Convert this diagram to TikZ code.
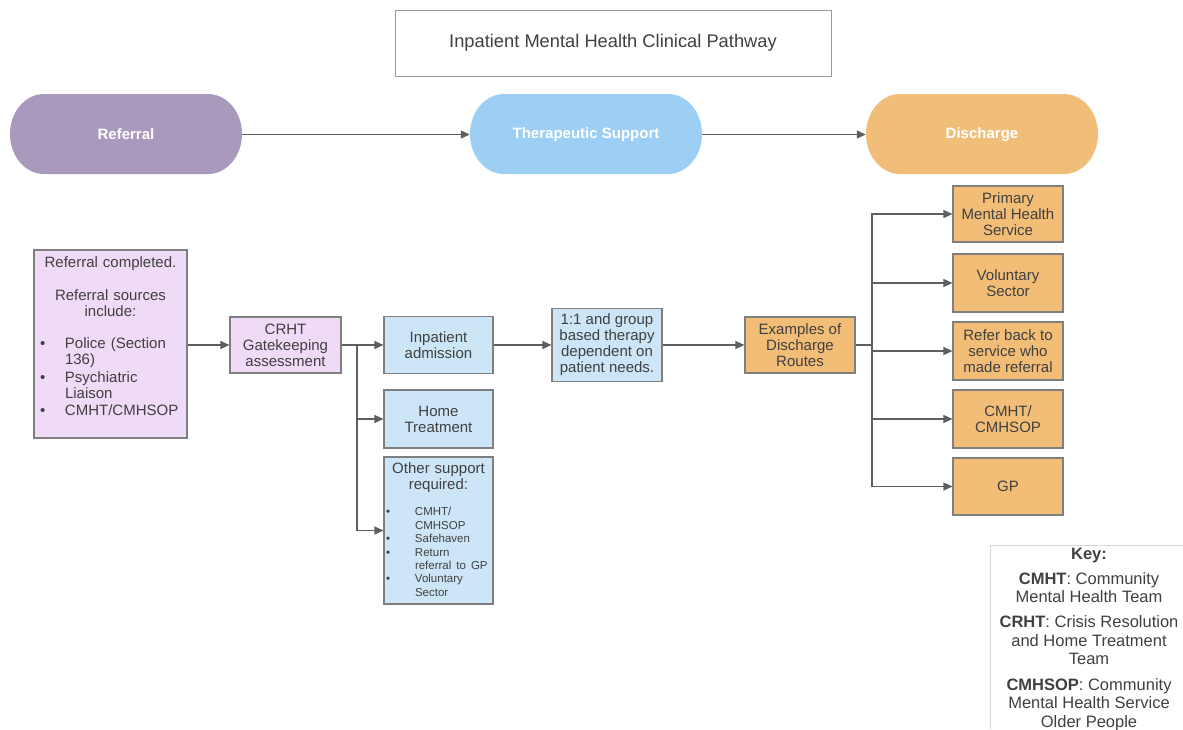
\documentclass[tikz,border=0pt]{standalone}
\usepackage{fontspec}
\setmainfont{Liberation Sans}
\usetikzlibrary{arrows.meta}
\definecolor{txtc}{HTML}{404040}
\definecolor{bordc}{HTML}{7F7F7F}
\definecolor{arrc}{HTML}{5F5F5F}
\definecolor{pillpurple}{HTML}{A99ABD}
\definecolor{pillblue}{HTML}{9CCFF3}
\definecolor{pillorange}{HTML}{F1BE79}
\definecolor{lavfill}{HTML}{EFDAF7}
\definecolor{bluefill}{HTML}{CCE6F8}
\definecolor{orangefill}{HTML}{F2BD77}
\definecolor{keyline}{HTML}{D6D6D6}
\newcommand\pillshape[3]{%
  \fill[#3] ({#1-82},{#2-40}) -- ({#1+82},{#2-40})
    .. controls ({#1+100.8},{#2-40}) and ({#1+116},{#2-22.1}) .. ({#1+116},{#2})
    .. controls ({#1+116},{#2+22.1}) and ({#1+100.8},{#2+40}) .. ({#1+82},{#2+40})
    -- ({#1-82},{#2+40})
    .. controls ({#1-100.8},{#2+40}) and ({#1-116},{#2+22.1}) .. ({#1-116},{#2})
    .. controls ({#1-116},{#2-22.1}) and ({#1-100.8},{#2-40}) .. ({#1-82},{#2-40}) -- cycle;}
% bullet line and continuation line: #1 bullet column width, #2 text
\newcommand\bulline[2]{\par\noindent\makebox[#1][l]{\textbullet}#2\par}
\newcommand\contline[2]{\par\noindent\hspace*{#1}#2\par}
\tikzset{
  boxnode/.style={draw=bordc, line width=1.1pt, text=txtc, font=\fontsize{15}{16}\selectfont, align=center, inner sep=0pt},
  lavbox/.style={boxnode, fill=lavfill},
  bluebox/.style={boxnode, fill=bluefill},
  orangebox/.style={boxnode, fill=orangefill},
  pilltext/.style={text=white, font=\fontsize{15}{16}\selectfont\bfseries, minimum width=232pt, minimum height=80pt, inner sep=0pt},
  conn/.style={draw=arrc, line width=1.2pt},
  arrow/.style={conn, -{Triangle[length=9pt,width=8pt]}},
  plaintext/.style={text=txtc, inner sep=0pt}
}
\begin{document}
\begin{tikzpicture}[x=1pt,y=-1pt]
\useasboundingbox (0,0) rectangle (1183,729);
% title
\node[draw=bordc!80, line width=1pt, minimum width=436pt, minimum height=66pt, inner sep=0pt, text=txtc, font=\fontsize{18.3}{20}\selectfont] (title) at (613,43) {Inpatient Mental Health Clinical Pathway};
% pills
\pillshape{126}{134}{pillpurple}
\pillshape{586}{134}{pillblue}
\pillshape{982}{134}{pillorange}
\node[pilltext] (pref) at (126,134.5) {Referral};
\node[pilltext] (pther) at (586,134.5) {Therapeutic Support};
\node[pilltext] (pdis) at (982,134.5) {Discharge};
\draw[arrow] (pref.east) -- (pther.west);
\draw[arrow] (pther.east) -- (pdis.west);
% referral box
\node[lavbox, minimum width=153pt, minimum height=188pt] (ref) at (110.5,344) {};
\node[plaintext, text width=141pt, anchor=north, font=\fontsize{15}{16}\selectfont] (reftext) at (110.5,256.5) {\raggedright
{\centering Referral completed.\par}\vspace{17pt}
{\centering Referral sources\\include:\par}\vspace{16pt}
\bulline{25pt}{Police (Section}
\contline{25pt}{136)}\vspace{2pt}
\bulline{25pt}{Psychiatric}
\contline{25pt}{Liaison}\vspace{1pt}
\bulline{25pt}{CMHT/CMHSOP}};
% CRHT
\node[lavbox, minimum width=111pt, minimum height=56pt] (crht) at (285.5,345) {CRHT\\Gatekeeping\\assessment};
\draw[arrow] (ref.east |- crht.west) -- (crht.west);
% blue boxes
\node[bluebox, minimum width=109pt, minimum height=57pt] (inpat) at (438.5,345) {Inpatient\\admission};
\node[bluebox, minimum width=109pt, minimum height=58pt] (home) at (438.5,419) {Home\\Treatment};
\node[bluebox, minimum width=109pt, minimum height=147pt] (other) at (438.5,530.5) {};
\node[plaintext, text width=105pt, anchor=north, font=\fontsize{15}{16}\selectfont] (othertext) at (438.5,462) {\raggedright
{\centering Other support\\required:\par}\vspace{13.5pt}
{\fontsize{11.5}{13.4}\selectfont
\bulline{29pt}{CMHT/}
\contline{29pt}{CMHSOP}
\bulline{29pt}{Safehaven}
\bulline{29pt}{Return}
\contline{29pt}{referral to GP}
\bulline{29pt}{Voluntary}
\contline{29pt}{Sector}}};
\coordinate (b1) at (357,345);
\draw[conn] (crht.east) -- (b1);
\draw[arrow] (b1) -- (inpat.west);
\draw[arrow] (b1) |- (home.west);
\draw[arrow] (b1) |- (other.west);
% therapy
\node[bluebox, minimum width=110pt, minimum height=73pt] (thera) at (607,345) {1:1 and group\\based therapy\\dependent on\\patient needs.};
\draw[arrow] (inpat.east) -- (thera.west);
% discharge routes
\node[orangebox, minimum width=110pt, minimum height=56pt] (routes) at (800,345) {Examples of\\Discharge\\Routes};
\draw[arrow] (thera.east) -- (routes.west);
\node[orangebox, minimum width=110pt, minimum height=56pt] (prim) at (1008,214) {Primary\\Mental Health\\Service};
\node[orangebox, minimum width=110pt, minimum height=58pt] (vol) at (1008,283) {Voluntary\\Sector};
\node[orangebox, minimum width=110pt, minimum height=58pt] (back) at (1008,351) {Refer back to\\service who\\made referral};
\node[orangebox, minimum width=110pt, minimum height=58pt] (cmht) at (1008,419) {CMHT/\\CMHSOP};
\node[orangebox, minimum width=110pt, minimum height=57pt] (gp) at (1008,486.5) {GP};
\coordinate (b2) at (872,345);
\draw[conn] (routes.east) -- (b2);
\draw[arrow] (b2) |- (prim.west);
\draw[arrow] (b2) |- (vol.west);
\draw[arrow] (b2) |- (back.west);
\draw[arrow] (b2) |- (cmht.west);
\draw[arrow] (b2) |- (gp.west);
% key
\draw[keyline, line width=1pt] (990,729) -- (990,545) -- (1183,545);
\node[text=txtc, inner sep=0pt, align=center, anchor=north, font=\fontsize{16.5}{18.5}\selectfont] (key) at (1089,547.5) {%
\textbf{Key:}\\[6.5pt]
\textbf{CMHT}: Community\\Mental Health Team\\[6.5pt]
\textbf{CRHT}: Crisis Resolution\\and Home Treatment\\Team\\[7pt]
\textbf{CMHSOP}: Community\\Mental Health Service\\Older People};
\end{tikzpicture}
\end{document}
